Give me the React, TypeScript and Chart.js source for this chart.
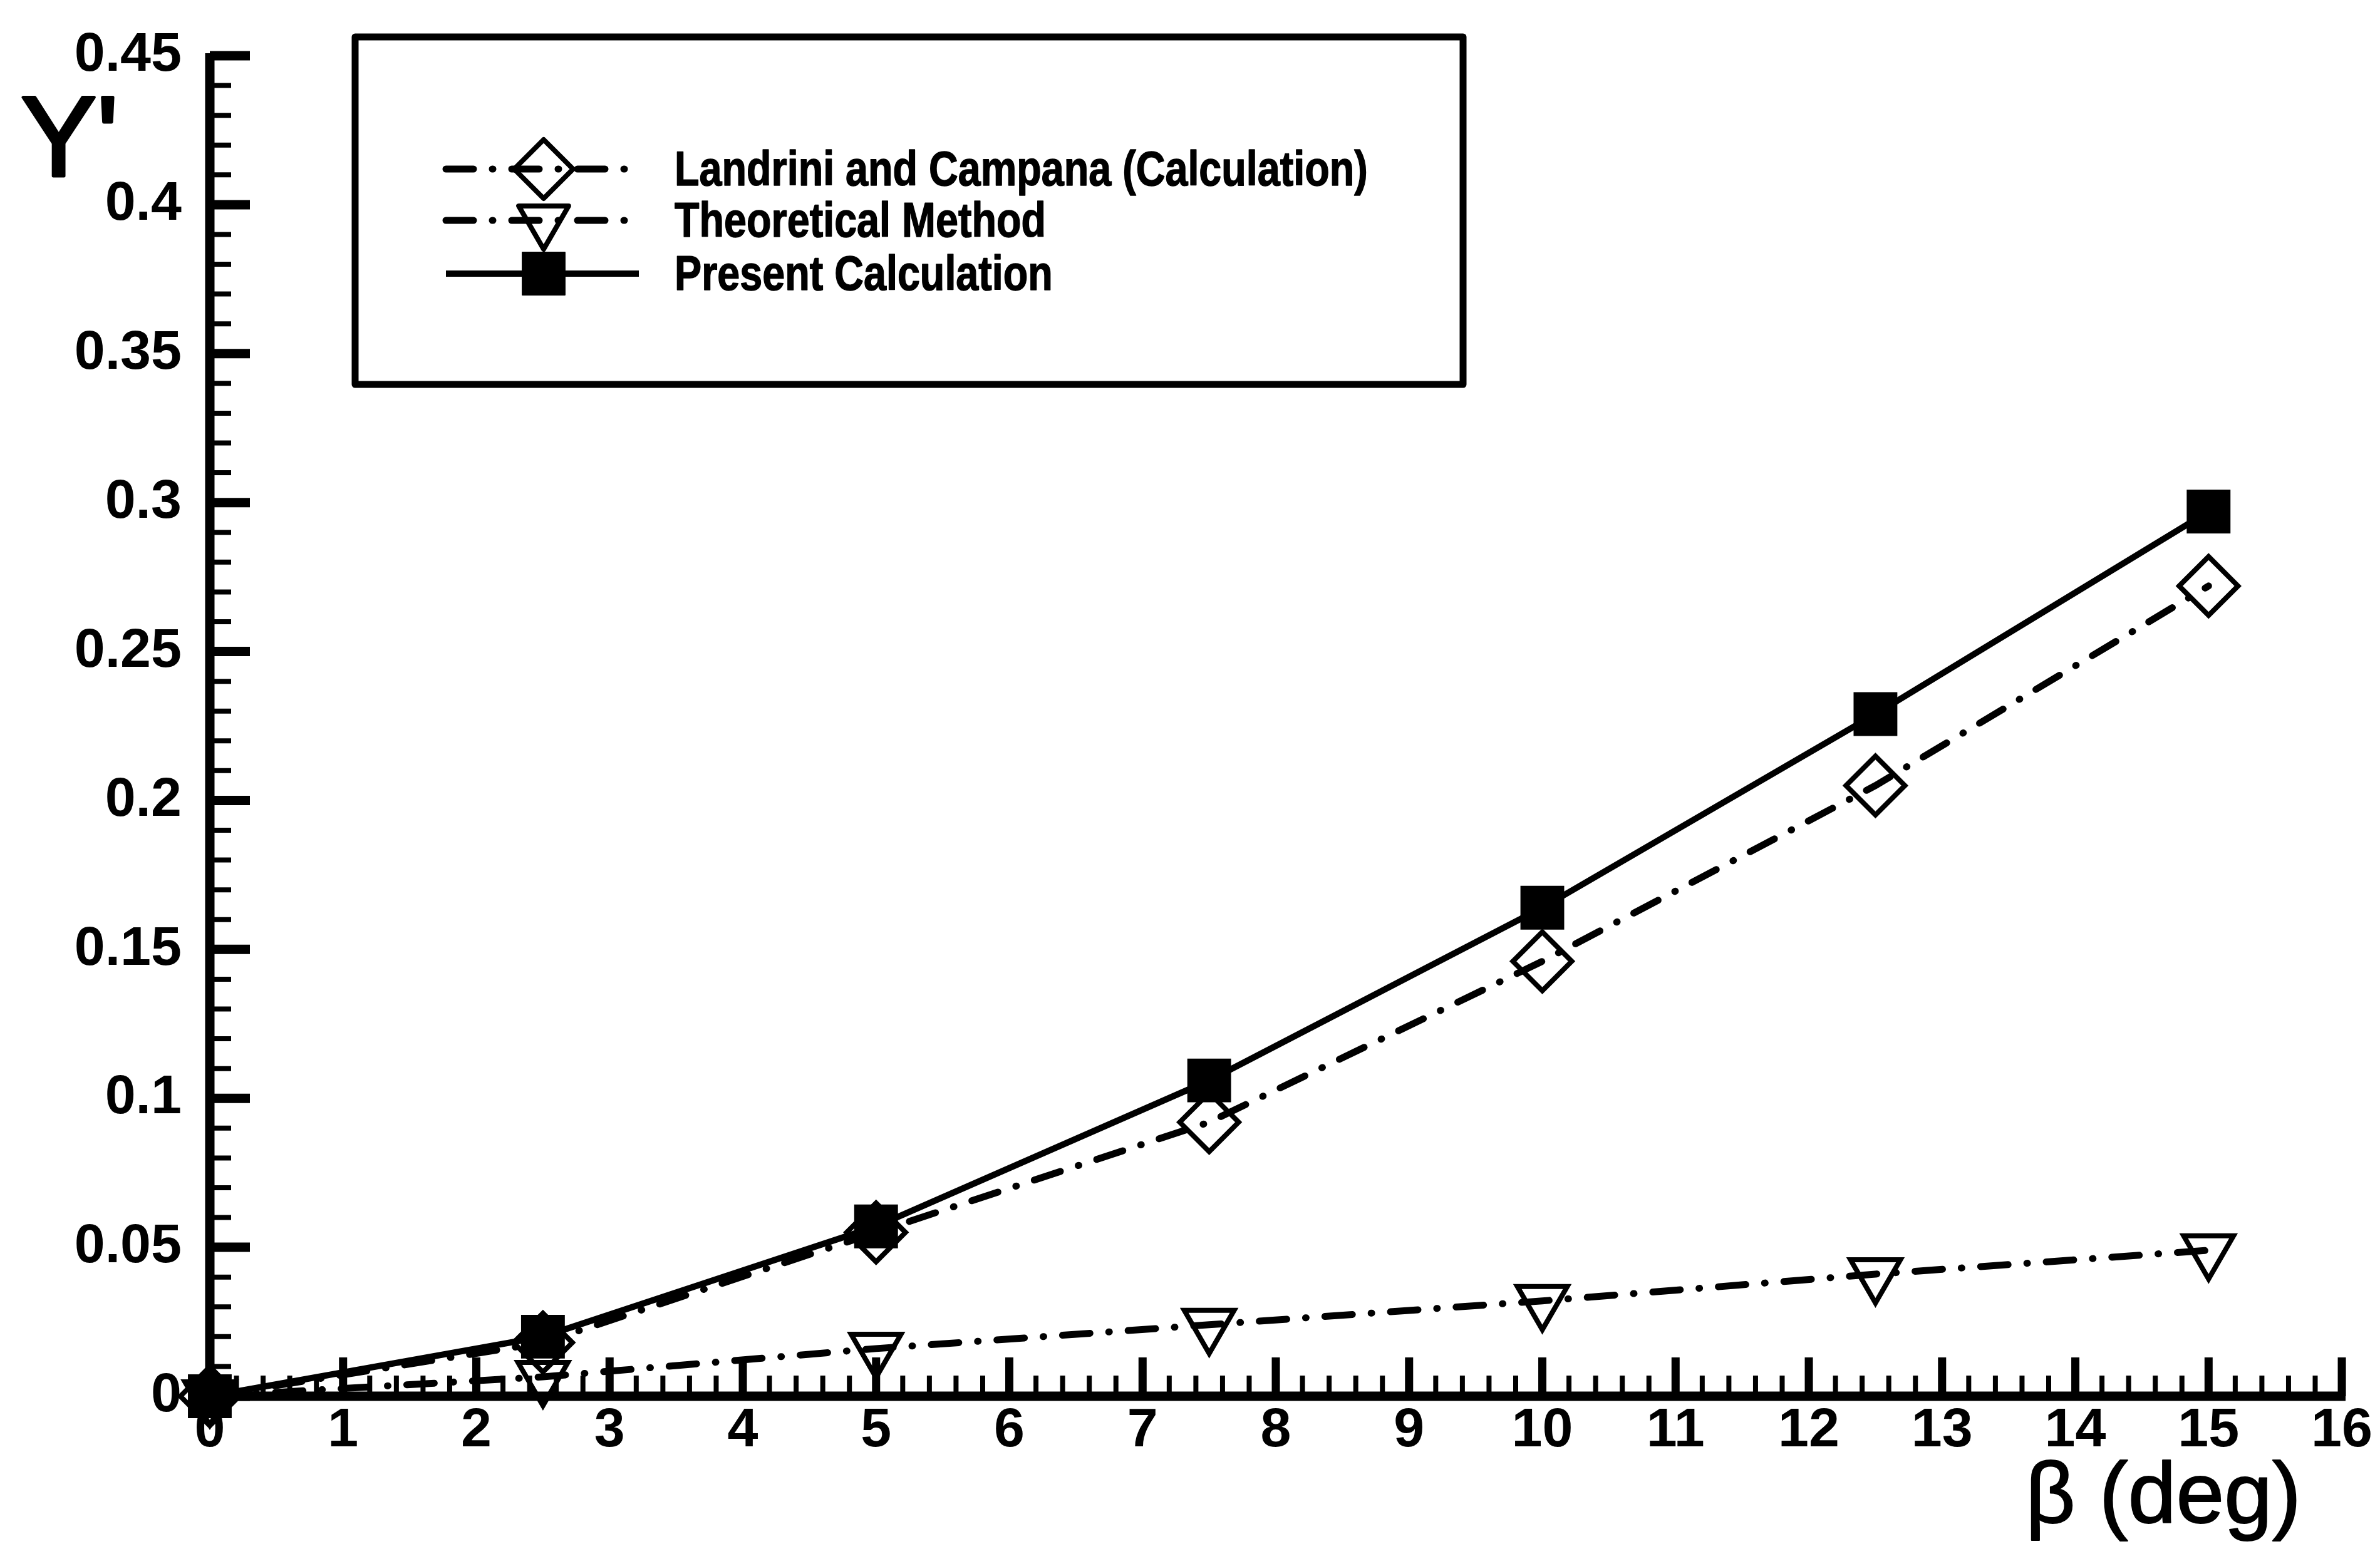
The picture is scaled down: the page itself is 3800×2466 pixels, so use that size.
import React, { useEffect, useRef } from 'react';
import { Chart, registerables } from 'chart.js';

Chart.register(...registerables);

// ---- data ----
const betaDeg = [0, 2.5, 5, 7.5, 10, 12.5, 15];
const landriniCampana = [0, 0.018, 0.055, 0.092, 0.146, 0.205, 0.272];
const theoreticalMethod = [0, 0.0065, 0.016, 0.024, 0.032, 0.041, 0.049];
const presentCalculation = [0, 0.02, 0.057, 0.106, 0.164, 0.229, 0.297];
const seriesLabels = ['Landrini and Campana (Calculation)', 'Theoretical Method', 'Present Calculation'];
const xAxisTitle = 'β (deg)';
const yAxisTitle = "Y'";
const xRange = [0, 16];
const yRange = [0, 0.45];

const FONT = '"Liberation Sans", Arial, Helvetica, sans-serif';
const DASH_DOT = [44, 30, 1, 30];

function pts(vals: number[]) {
  return betaDeg.map((b, i) => ({ x: b, y: vals[i] }));
}

function drawMarker(ctx: CanvasRenderingContext2D, style: string, x: number, y: number, r: number, fill: boolean) {
  ctx.beginPath();
  if (style === 'rectRot') {
    ctx.moveTo(x, y - r);
    ctx.lineTo(x + r, y);
    ctx.lineTo(x, y + r);
    ctx.lineTo(x - r, y);
    ctx.closePath();
  } else if (style === 'triangle') {
    ctx.moveTo(x, y + r);
    ctx.lineTo(x - 0.866 * r, y - 0.5 * r);
    ctx.lineTo(x + 0.866 * r, y - 0.5 * r);
    ctx.closePath();
  } else {
    const s = Math.SQRT1_2 * r;
    ctx.rect(x - s, y - s, 2 * s, 2 * s);
  }
  if (fill) ctx.fill();
  ctx.stroke();
}

const axesPlugin = {
  id: 'tecAxes',
  beforeDatasetsDraw(chart: any) {
    const { ctx, scales } = chart;
    const xs = scales.x;
    const ys = scales.y;
    const x0 = xs.getPixelForValue(xRange[0]);
    const x1 = xs.getPixelForValue(xRange[1]);
    const y0 = ys.getPixelForValue(yRange[0]);
    const y1 = ys.getPixelForValue(yRange[1]);
    ctx.save();
    ctx.strokeStyle = '#000';
    ctx.lineCap = 'butt';
    ctx.lineWidth = 15;
    ctx.beginPath();
    ctx.moveTo(x0, y0 + 7.5);
    ctx.lineTo(x0, y1 - 4);
    ctx.stroke();
    ctx.beginPath();
    ctx.moveTo(x0 - 7.5, y0);
    ctx.lineTo(x1 + 6, y0);
    ctx.stroke();
    // x ticks (inside, pointing up): minor every 0.2
    for (let i = 0; i <= 80; i++) {
      const v = i * 0.2;
      const major = i % 5 === 0;
      const px = xs.getPixelForValue(v);
      ctx.lineWidth = major ? 13 : 8;
      ctx.beginPath();
      ctx.moveTo(px, y0);
      ctx.lineTo(px, y0 - (major ? 62 : 33));
      ctx.stroke();
    }
    // y ticks (inside, pointing right): minor every 0.01
    for (let i = 0; i <= 45; i++) {
      const v = i * 0.01;
      const major = i % 5 === 0;
      const py = ys.getPixelForValue(v);
      ctx.lineWidth = major ? 15 : 8;
      ctx.beginPath();
      ctx.moveTo(x0, py);
      ctx.lineTo(x0 + (major ? 64 : 34), py);
      ctx.stroke();
    }
    ctx.restore();
  },
  afterDraw(chart: any) {
    const { ctx } = chart;
    ctx.save();
    ctx.fillStyle = '#000';
    ctx.strokeStyle = '#000';
    // axis titles
    ctx.font = `182px ${FONT}`;
    ctx.textAlign = 'left';
    ctx.textBaseline = 'alphabetic';
    ctx.lineWidth = 5;
    ctx.lineJoin = 'round';
    ctx.fillText(yAxisTitle, 33, 281);
    ctx.strokeText(yAxisTitle, 33, 281);
    ctx.font = `138px ${FONT}`;
    ctx.textAlign = 'right';
    ctx.lineWidth = 2;
    ctx.fillText(xAxisTitle, 3674, 2432);
    ctx.strokeText(xAxisTitle, 3674, 2432);

    // legend box
    ctx.lineWidth = 11;
    ctx.strokeRect(567, 59, 1769, 555);
    const rows = [270, 352, 437];
    chart.data.datasets.forEach((ds: any, i: number) => {
      const y = rows[i];
      ctx.save();
      ctx.lineWidth = ds.borderWidth;
      ctx.lineCap = ds.borderCapStyle || 'butt';
      ctx.setLineDash(ds.borderDash || []);
      ctx.beginPath();
      ctx.moveTo(712, y);
      ctx.lineTo(1020, y);
      ctx.stroke();
      ctx.restore();
      ctx.save();
      ctx.lineWidth = ds.pointBorderWidth;
      ctx.strokeStyle = '#000';
      ctx.fillStyle = '#000';
      drawMarker(ctx, ds.pointStyle, 868, y, ds.pointRadius, ds.pointBackgroundColor === '#000');
      ctx.restore();
      ctx.save();
      ctx.font = `bold 77px ${FONT}`;
      ctx.textAlign = 'left';
      ctx.textBaseline = 'alphabetic';
      ctx.translate(1077, y + 26);
      ctx.scale(0.84, 1);
      ctx.lineWidth = 1.5;
      ctx.fillText(ds.label, 0, 0);
      ctx.strokeText(ds.label, 0, 0);
      ctx.restore();
    });
    ctx.restore();
  },
};

export default function App() {
  const ref = useRef<HTMLCanvasElement>(null);
  useEffect(() => {
    if (!ref.current) return;
    const tickFont = { family: FONT, size: 88, weight: 'bold' as const, lineHeight: 1 };
    const chart = new Chart(ref.current, {
      type: 'line',
      data: {
        datasets: [
          {
            label: seriesLabels[0],
            data: pts(landriniCampana),
            borderColor: '#000',
            borderWidth: 11,
            borderDash: DASH_DOT,
            borderCapStyle: 'round',
            pointStyle: 'rectRot',
            pointRadius: 47,
            pointBorderWidth: 8,
            pointBorderColor: '#000',
            pointBackgroundColor: 'rgba(0,0,0,0)',
            tension: 0,
            clip: false,
            order: 2,
          } as any,
          {
            label: seriesLabels[1],
            data: pts(theoreticalMethod),
            borderColor: '#000',
            borderWidth: 11,
            borderDash: DASH_DOT,
            borderCapStyle: 'round',
            pointStyle: 'triangle',
            pointRotation: 180,
            pointRadius: 46,
            pointBorderWidth: 8,
            pointBorderColor: '#000',
            pointBackgroundColor: 'rgba(0,0,0,0)',
            tension: 0,
            clip: false,
            order: 3,
          } as any,
          {
            label: seriesLabels[2],
            data: pts(presentCalculation),
            borderColor: '#000',
            borderWidth: 10,
            pointStyle: 'rect',
            pointRadius: 48,
            pointBorderWidth: 2,
            pointBorderColor: '#000',
            pointBackgroundColor: '#000',
            tension: 0,
            clip: false,
            order: 1,
          } as any,
        ],
      },
      options: {
        responsive: false,
        maintainAspectRatio: false,
        animation: false,
        events: [],
        layout: { padding: { top: 88, right: 56, left: 0, bottom: 0 } },
        plugins: { legend: { display: false }, tooltip: { enabled: false } },
        scales: {
          x: {
            type: 'linear',
            min: xRange[0],
            max: xRange[1],
            grid: { display: false, drawTicks: false },
            border: { display: false },
            ticks: { stepSize: 1, color: '#000', font: tickFont, padding: 12, maxRotation: 0, autoSkip: false },
            afterFit: (s: any) => { s.height = 236; },
          },
          y: {
            type: 'linear',
            min: yRange[0],
            max: yRange[1],
            grid: { display: false, drawTicks: false },
            border: { display: false },
            ticks: {
              stepSize: 0.05,
              color: '#000',
              font: tickFont,
              padding: 45,
              autoSkip: false,
              callback: (v: any) => {
                const n = Math.round(Number(v) * 100) / 100;
                return n === 0 ? '0' : String(n);
              },
            },
            afterFit: (s: any) => { s.width = 335; },
          },
        },
      },
      plugins: [axesPlugin],
    });
    return () => chart.destroy();
  }, []);
  return (
    <div style={{ position: 'fixed', left: 0, top: 0, width: 3800, height: 2466, background: '#fff' }}>
      <canvas ref={ref} width={3800} height={2466} style={{ display: 'block', width: 3800, height: 2466 }} />
    </div>
  );
}
